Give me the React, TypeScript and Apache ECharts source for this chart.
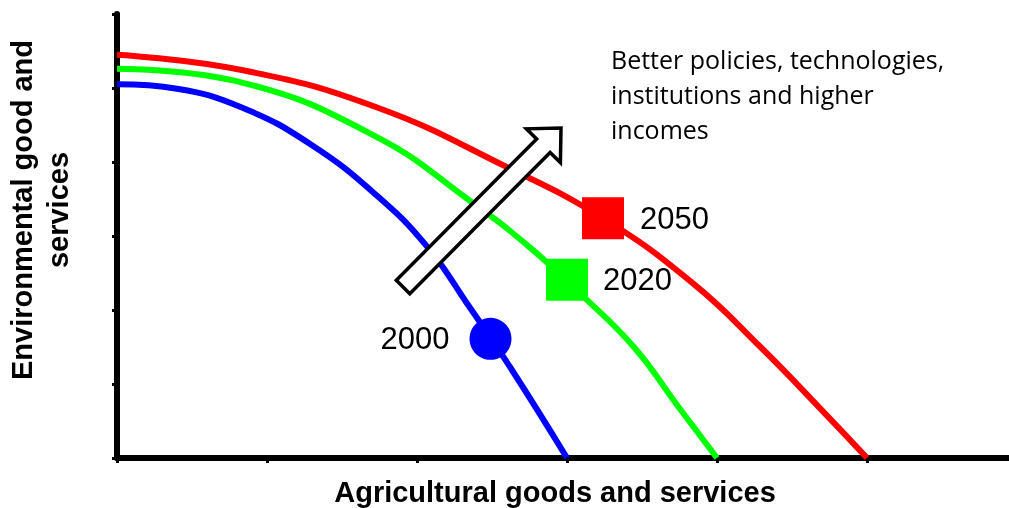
import React, { useEffect, useRef } from "react";
import * as echarts from "echarts";

// Curves (x = agricultural goods, y = environmental goods)
const blueX = [0, 0.4, 0.84, 1.29, 1.73, 2.07, 2.35, 2.62, 3.0];
const blueY = [5.05, 4.99, 4.73, 4.24, 3.55, 2.85, 2.04, 1.23, 0];
const greenX = [0, 0.84, 1.73, 2.37, 2.75, 3.11, 3.45, 3.74, 4.0];
const greenY = [5.26, 5.07, 4.34, 3.45, 2.85, 2.18, 1.49, 0.7, 0];
const redX = [0, 0.84, 1.73, 2.6, 3.24, 3.84, 4.29, 4.73, 5.0];
const redY = [5.45, 5.24, 4.74, 3.93, 3.24, 2.36, 1.5, 0.58, 0];

// Year markers
const yearLabels = ["2000", "2020", "2050"];
const markerPoints = [
  [2.49, 1.61],
  [3.0, 2.41],
  [3.24, 3.24],
];

// Arrow (data coordinates)
const arrowTail = [1.907, 2.311];
const arrowTip = [2.96, 4.46];

const annotationLines = [
  "Better policies, technologies,",
  "institutions and higher",
  "incomes",
];
const xTitle = "Agricultural goods and services";
const yTitleLines = ["Environmental good and", "services"];

const zip = (xs: number[], ys: number[]) => xs.map((x, i) => [x, ys[i]]);

export default function App() {
  const ref = useRef<HTMLDivElement>(null);
  useEffect(() => {
    if (!ref.current) return;
    const chart = echarts.init(ref.current, null, { renderer: "svg" });
    const lineSeries = (data: number[][], color: string) => ({
      type: "line",
      data,
      smooth: 0.45,
      showSymbol: false,
      symbol: "none",
      lineStyle: { color, width: 6 },
      z: 2,
    });
    const markerSeries = (
      pt: number[],
      color: string,
      symbol: string,
      label: string,
      pos: string,
      dist: number
    ) => ({
      type: "scatter",
      data: [pt],
      symbol,
      symbolSize: 42,
      itemStyle: { color, opacity: 1 },
      label: {
        show: true,
        formatter: label,
        position: pos,
        distance: dist,
        fontSize: 31,
        fontFamily: "Liberation Sans, Arial, sans-serif",
        color: "#000",
      },
      z: 3,
    });
    chart.setOption({
      animation: false,
      grid: { left: 117, width: 900, top: 14, bottom: 50, outerBoundsMode: "none" },
      xAxis: {
        type: "value",
        min: 0,
        max: 6,
        interval: 1,
        axisLine: { show: true, lineStyle: { color: "#000", width: 6 } },
        axisTick: { show: true, length: 5, lineStyle: { color: "#000", width: 3 } },
        axisLabel: { show: false },
        splitLine: { show: false },
      },
      yAxis: {
        type: "value",
        min: 0,
        max: 6,
        interval: 1,
        axisLine: { show: true, lineStyle: { color: "#000", width: 6 } },
        axisTick: { show: true, length: 5, lineStyle: { color: "#000", width: 3 } },
        axisLabel: { show: false },
        splitLine: { show: false },
      },
      series: [
        lineSeries(zip(blueX, blueY), "#0000ff"),
        lineSeries(zip(greenX, greenY), "#00ff00"),
        lineSeries(zip(redX, redY), "#ff0000"),
        markerSeries(markerPoints[0], "#0000ff", "circle", yearLabels[0], "left", 20),
        markerSeries(markerPoints[1], "#00ff00", "rect", yearLabels[1], "right", 15),
        markerSeries(markerPoints[2], "#ff0000", "rect", yearLabels[2], "right", 16),
      ],
    });

    const [tx, ty] = chart.convertToPixel({ gridIndex: 0 }, arrowTail) as number[];
    const [px, py] = chart.convertToPixel({ gridIndex: 0 }, arrowTip) as number[];
    const L = Math.hypot(px - tx, py - ty);
    const ux = (px - tx) / L;
    const uy = (py - ty) / L;
    const nx = -uy;
    const ny = ux;
    const sw = 9.5;
    const hl = 25;
    const hw = 24;
    const pt = (a: number, b: number) => [tx + ux * a + nx * b, ty + uy * a + ny * b];
    const arrowPts = [
      pt(0, -sw),
      pt(L - hl, -sw),
      pt(L - hl, -hw),
      pt(L, 0),
      pt(L - hl, hw),
      pt(L - hl, sw),
      pt(0, sw),
    ];

    chart.setOption({
      graphic: [
        {
          type: "polygon",
          shape: { points: arrowPts },
          style: { fill: "#fff", stroke: "#000", lineWidth: 3.5, lineJoin: "miter" },
          z: 100,
        },
        {
          type: "text",
          left: 611,
          top: 41,
          style: {
            text: annotationLines.join("\n"),
            font: "25px 'Open Sans', sans-serif",
            lineHeight: 35,
            fill: "#000",
          },
          z: 100,
        },
        {
          type: "text",
          x: 555,
          y: 492,
          style: {
            text: xTitle,
            font: "bold 29px 'Liberation Sans', Arial, sans-serif",
            fill: "#000",
            align: "center",
            verticalAlign: "middle",
          },
          z: 100,
        },
        {
          type: "text",
          x: 40,
          y: 210,
          rotation: Math.PI / 2,
          style: {
            text: yTitleLines.join("\n"),
            font: "bold 29px 'Liberation Sans', Arial, sans-serif",
            fill: "#000",
            align: "center",
            verticalAlign: "middle",
            lineHeight: 36,
          },
          z: 100,
        },
      ],
    });
    return () => chart.dispose();
  }, []);
  return (
    <div
      ref={ref}
      style={{ position: "fixed", left: 0, top: 0, width: 1009, height: 508 }}
    />
  );
}
